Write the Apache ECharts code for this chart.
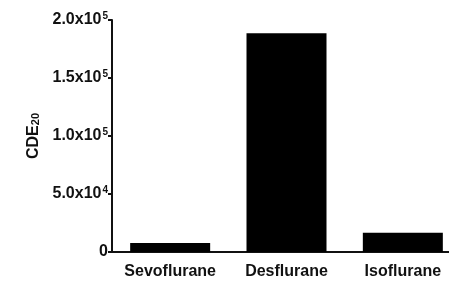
<!DOCTYPE html>
<html>
<head>
<meta charset="utf-8">
<script src="https://cdn.jsdelivr.net/npm/echarts@6/dist/echarts.min.js"></script>
<style>
  html, body { margin: 0; padding: 0; background: #fff; overflow: hidden; }
  /* 右侧坐标轴延伸出画面 */
  #main { width: 461px; height: 294px; }
</style>
</head>
<body>
<div id="main"></div>
<script>
// 数据
var categories = ['Sevoflurane', 'Desflurane', 'Isoflurane'];
var cdeValues = [7800, 188500, 16600];
var yTicks = [0, 50000, 100000, 150000, 200000];
var yTickLabels = ['0', '5.0x10{sup|4}', '1.0x10{sup|5}', '1.5x10{sup|5}', '2.0x10{sup|5}'];

var myChart = echarts.init(document.getElementById('main'));
var font = 'Liberation Sans, Arial, sans-serif';

var option = {
  animation: false,
  grid: {
    left: 112,
    top: 20,
    bottom: 42,
    right: 0
  },
  xAxis: {
    type: 'category',
    data: categories,
    axisTick: { show: false },
    axisLine: { lineStyle: { color: '#111', width: 2 } },
    axisLabel: {
      interval: 0,
      color: '#111',
      fontFamily: font,
      fontWeight: 'bold',
      fontSize: 16,
      margin: 12
    }
  },
  yAxis: {
    type: 'value',
    min: 0,
    max: 200000,
    interval: 50000,
    name: 'CDE{sub|20}',
    nameLocation: 'middle',
    nameGap: 65,
    nameRotate: 90,
    nameTextStyle: {
      color: '#111',
      fontFamily: font,
      fontWeight: 'bold',
      fontSize: 16,
      rich: {
        sub: { fontSize: 11, fontWeight: 'bold', fontFamily: font, color: '#111', verticalAlign: 'bottom', padding: [6, 0, 0, 0] }
      }
    },
    splitLine: { show: false },
    axisLine: { show: true, lineStyle: { color: '#111', width: 2 } },
    axisTick: { show: true, length: 4, lineStyle: { color: '#111', width: 2 } },
    axisLabel: {
      color: '#111',
      fontFamily: font,
      fontWeight: 'bold',
      fontSize: 16,
      margin: 4,
      formatter: function (val) {
        var i = yTicks.indexOf(val);
        return i >= 0 ? yTickLabels[i] : '';
      },
      rich: {
        sup: { fontSize: 10, fontWeight: 'bold', fontFamily: font, color: '#111', verticalAlign: 'top', padding: [0, 0, 8, 1] }
      }
    }
  },
  series: [
    {
      type: 'bar',
      data: cdeValues,
      barWidth: 80,
      itemStyle: { color: '#000' }
    }
  ]
};
myChart.setOption(option);
</script>
</body>
</html>
